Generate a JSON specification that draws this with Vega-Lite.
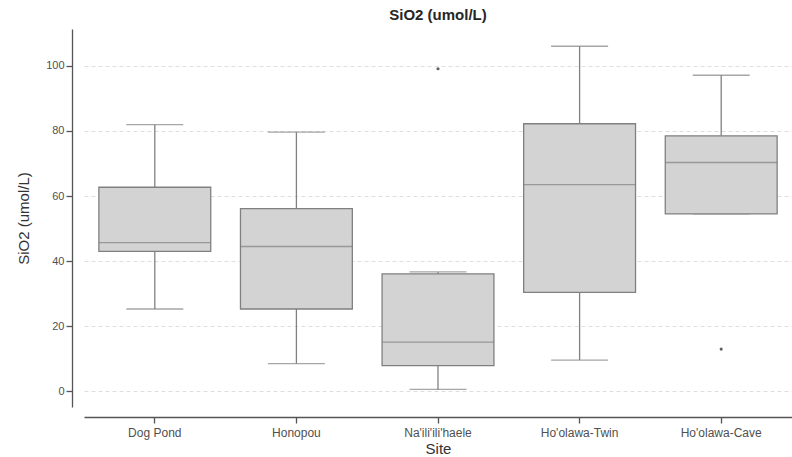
{
  "$schema": "https://vega.github.io/schema/vega-lite/v6.json",
  "autosize": "none",
  "padding": {"left": 84, "top": 29, "right": 0, "bottom": 50},
  "width": 708,
  "height": 378,
  "background": "white",
  "title": {"text": "SiO2 (umol/L)", "font": "Liberation Sans", "fontSize": 15, "fontWeight": "bold", "color": "#262626", "anchor": "middle", "offset": 6},
  "config": {
    "view": {"stroke": null},
    "axis": {"labelFont": "Liberation Sans", "titleFont": "Liberation Sans", "labelColor": "#505050", "titleColor": "#333333", "labelFontSize": 11, "titleFontSize": 14, "titleFontWeight": "normal", "domainColor": "#555555", "tickColor": "#555555", "domainWidth": 1.3, "tickWidth": 1.3, "tickSize": 6}
  },
  "datasets": {
    "boxes": [
      {"Site": "Dog Pond", "lower": 25.3, "q1": 43.0, "median": 45.7, "q3": 62.7, "upper": 81.9},
      {"Site": "Honopou", "lower": 8.5, "q1": 25.3, "median": 44.5, "q3": 56.1, "upper": 79.6},
      {"Site": "Na'ili'ili'haele", "lower": 0.6, "q1": 7.9, "median": 15.1, "q3": 36.1, "upper": 36.7},
      {"Site": "Ho'olawa-Twin", "lower": 9.6, "q1": 30.4, "median": 63.5, "q3": 82.2, "upper": 106.0},
      {"Site": "Ho'olawa-Cave", "lower": 54.5, "q1": 54.5, "median": 70.3, "q3": 78.5, "upper": 97.1}
    ],
    "outliers": [
      {"Site": "Na'ili'ili'haele", "value": 99.1},
      {"Site": "Ho'olawa-Cave", "value": 13.0}
    ]
  },
  "encoding": {
    "x": {
      "field": "Site", "type": "nominal",
      "sort": ["Dog Pond", "Honopou", "Na'ili'ili'haele", "Ho'olawa-Twin", "Ho'olawa-Cave"],
      "scale": {"type": "band", "paddingInner": 0, "paddingOuter": 0},
      "axis": {"labelAngle": 0, "offset": 10, "title": "Site", "titlePadding": 3, "labelPadding": 4, "labelFontSize": 12, "titleFontSize": 15, "grid": false}
    }
  },
  "layer": [
    {
      "data": {"name": "boxes"},
      "mark": {"type": "rule", "color": "#808080", "strokeWidth": 1.3},
      "encoding": {
        "y": {"field": "lower", "type": "quantitative",
          "scale": {"domain": [-4.8, 111.3], "nice": false, "zero": false},
          "axis": {"title": "SiO2 (umol/L)", "values": [0, 20, 40, 60, 80, 100], "offset": 12, "grid": true, "gridDash": [4, 3], "gridColor": "#dedede", "gridWidth": 1, "titlePadding": 14, "titleFontSize": 15}},
        "y2": {"field": "q1"}
      }
    },
    {
      "data": {"name": "boxes"},
      "mark": {"type": "rule", "color": "#808080", "strokeWidth": 1.3},
      "encoding": {
        "y": {"field": "q3", "type": "quantitative"},
        "y2": {"field": "upper"}
      }
    },
    {
      "data": {"name": "boxes"},
      "mark": {"type": "tick", "color": "#808080", "size": 57, "thickness": 1.3, "orient": "horizontal"},
      "encoding": {"y": {"field": "lower", "type": "quantitative"}}
    },
    {
      "data": {"name": "boxes"},
      "mark": {"type": "tick", "color": "#808080", "size": 57, "thickness": 1.3, "orient": "horizontal"},
      "encoding": {"y": {"field": "upper", "type": "quantitative"}}
    },
    {
      "data": {"name": "boxes"},
      "mark": {"type": "bar", "fill": "#d3d3d3", "stroke": "#808080", "strokeWidth": 1.3, "width": {"band": 0.79}},
      "encoding": {
        "y": {"field": "q1", "type": "quantitative"},
        "y2": {"field": "q3"}
      }
    },
    {
      "data": {"name": "boxes"},
      "mark": {"type": "tick", "color": "#808080", "size": 112, "thickness": 1.3, "orient": "horizontal"},
      "encoding": {"y": {"field": "median", "type": "quantitative"}}
    },
    {
      "data": {"name": "outliers"},
      "mark": {"type": "circle", "color": "#606060", "size": 10, "opacity": 1},
      "encoding": {"y": {"field": "value", "type": "quantitative"}}
    }
  ]
}
